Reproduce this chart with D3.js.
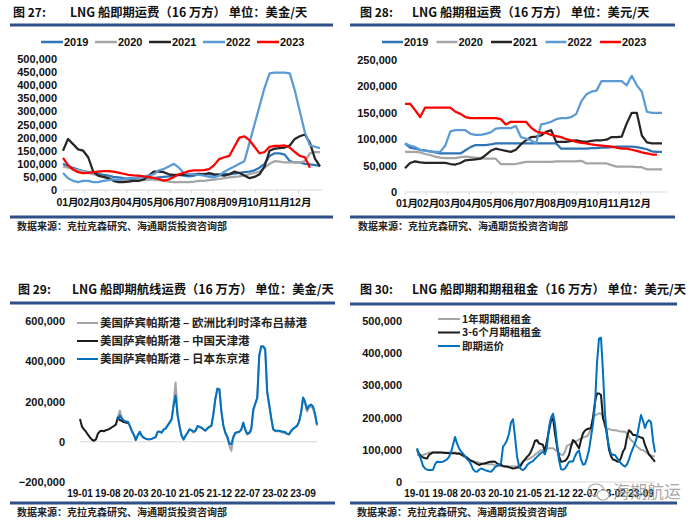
<!DOCTYPE html>
<html><head><meta charset="utf-8">
<script src="https://cdn.jsdelivr.net/npm/d3@7"></script>
<style>body{margin:0;background:#fff;} svg{display:block;}</style>
</head><body>
<svg id="c" width="700" height="530"></svg>
<script>
// ---------- DATA (values in thousand USD/day) ----------
const monthLabels = ["01月","02月","03月","04月","05月","06月","07月","08月","09月","10月","11月","12月"];
const years = ["2019","2020","2021","2022","2023"];

// Fig 27: spot rate, weekly
const spot2019 = [100,90,85,78,72,68,65,62,58,55, 50,48,45,42,42,40,40,42,45,48, 50,52,55,58,55,52,55,60,62,60, 58,60,62,60,62,65,68,70,75,85, 100,130,140,140,135,110,105,105,100,98, 95,92];
const spot2020 = [90,85,80,75,70,65,60,55,50,45, 40,38,36,35,36,38,38,40,40,38, 35,32,30,30,30,30,32,35,35,38, 40,42,45,48,50,52,55,60,65,70, 85,100,110,108,105,105,105,105,110,140, 145,145];
const spot2021 = [150,195,175,155,150,125,70,55,50,45, 35,30,30,32,35,35,40,55,70,70, 68,60,58,58,60,58,60,62,60,65, 60,58,55,60,70,65,55,45,50,60, 90,150,158,160,162,170,195,205,212,180, 120,90];
const spot2022 = [65,45,35,30,35,35,30,30,35,38, 40,40,42,45,45,48,50,55,60,75, 80,90,100,85,65,60,60,58,55,50, 48,55,70,80,90,100,110,180,250,320, 390,445,448,448,448,445,380,300,220,170, 165,160];
const spot2023 = [123,95,78,68,64,65,68,70,72,72, 70,66,62,58,56,55,52,50,46,42, 36,40,50,60,66,72,75,75,76,80, 95,118,125,130,165,200,205,190,165,140, 145,165,168,168,170,162,145,130,125,85];

// Fig 28: time-charter rate, weekly
const tc2019 = [92,84,82,80,79,77,75,73,73,73, 73,73,79,85,89,89,89,90,92,92, 92,92,92,92,92,92,92,92,92,92, 92,82,82,82,82,82,82,83,83,84, 84,85,86,86,86,86,85,83,81,77, 76,76];
const tc2020 = [76,76,76,75,72,70,67,65,64,64, 64,66,67,66,65,64,63,63,63,53, 53,53,53,55,57,57,57,57,57,57, 58,58,58,58,58,59,54,54,54,54, 54,51,48,48,48,48,47,47,43,43, 43,43];
const tc2021 = [45,55,58,56,55,55,55,55,55,53, 52,55,60,61,62,63,70,78,82,80, 78,76,80,90,98,104,105,107,114,117, 95,95,95,97,98,96,95,97,98,98, 99,104,104,105,130,150,150,107,94,92, 92,92];
const tc2022 = [92,88,85,80,78,77,76,76,88,115, 117,117,117,110,108,108,110,113,120,121, 121,121,125,104,101,98,92,128,130,133, 138,140,140,142,148,172,185,190,192,210, 210,210,210,210,202,220,202,190,152,150, 150,150];
const tc2023 = [167,167,155,142,160,160,160,160,160,160, 152,148,142,140,140,140,140,140,140,138, 128,133,133,133,133,122,115,112,112,108, 106,104,100,98,95,93,92,90,89,88, 87,86,84,82,82,80,78,75,73,71, 71];

// Fig 29 / 30: half-monthly from 2019-01
const dateLabels = ["19-01","19-08","20-03","20-10","21-05","21-12","22-07","23-02","23-09"];
const routeNames = ["美国萨宾帕斯港 – 欧洲比利时泽布吕赫港","美国萨宾帕斯港 – 中国天津港","美国萨宾帕斯港 – 日本东京港"];
const routeEuropeStart = 19;
const routeEurope = [120,155,120,105,100,100,78,50,35,10, 35,48,30,20,15,12,12,15,20,25, 48,52,45,62,68,82,98,115,190,295, 140,80,30,10,30,45,60,55,45,52, 75,72,68,60,55,65,72,78,140,215, 262,258,150,80,42,20,-20,-45,20,42, 45,48,58,90,55,35,40,55,150,185, 215,425,470,470,455,240,180,115,60,52, 52,52,48,45,42,38,35,50,62,70, 78,98,140,215,190,150,170,175,165,130, 80];
const routeChinaStart = 0;
const routeChina = [113,75,62,50,35,22,10,5,12,40, 52,55,52,58,60,65,72,78,85,120, 108,104,98,95,92];
const routeJapanStart = 19;
const routeJapan = [110,130,115,105,100,100,80,55,35,8, 30,50,30,20,15,12,12,14,18,22, 50,50,45,60,65,80,95,110,180,230, 130,75,30,12,30,45,62,58,50,55, 78,75,70,62,55,68,75,80,140,215, 265,260,150,80,45,25,-10,-12,25,45, 48,50,62,95,60,40,45,65,160,190, 220,430,475,475,460,250,185,120,62,55, 55,55,52,50,48,40,38,55,65,72, 80,100,145,220,200,160,180,185,175,140, 85];

const rateNames = ["1年期期租租金","3-6个月期租租金","即期运价"];
const tc1y = [84,84,84,84,86,88,92,92,92,92, 92,92,92,92,92,92,92,92,92,92, 90,88,84,80,76,74,70,67,65,63, 62,60,58,57,56,56,55,55,54,52, 50,50,49,48,48,48,48,48,48,48, 48,52,58,63,68,70,72,76,79,85, 90,95,99,99,100,103,105,105,105,100, 95,90,85,84,95,112,115,118,122,125, 128,132,135,138,140,142,150,170,200,208, 210,213,213,200,170,165,165,162,161,161, 160,158,157,156,156,150,140,130,125,118, 110,105,100,99,95,90,86,83,80,79];
const tc36m = [99,88,80,76,74,73,84,88,92,92, 92,92,92,91,90,90,89,89,89,89, 88,89,86,83,80,76,70,66,63,60, 56,53,55,57,58,60,62,63,64,63, 58,54,53,50,48,48,46,44,42,43, 45,45,52,63,70,78,84,95,110,128, 130,120,118,115,94,130,160,190,198,150, 110,80,63,64,66,72,84,110,130,125, 115,105,130,151,160,164,166,167,200,250, 275,275,270,198,180,150,100,80,70,68, 64,63,75,95,105,140,161,155,146,146, 143,141,138,136,115,100,85,78,70,63];
const spotRate = [105,85,70,50,42,38,37,37,38,55, 63,62,62,63,66,70,78,92,115,140, 120,105,95,88,80,72,65,55,40,33, 32,38,42,40,37,35,33,32,38,46, 50,55,58,110,118,130,150,185,195,140, 80,50,40,37,42,52,58,62,65,72, 78,85,90,94,86,110,170,200,212,180, 120,68,40,38,42,52,62,64,64,80, 92,98,70,54,56,75,100,140,180,240, 370,445,448,340,210,140,110,88,84,84, 75,65,58,52,48,55,70,90,105,120, 140,175,208,190,168,185,192,186,130,92];

// ---------- DRAWING ----------
const svg = d3.select("#c");
const NAVY = "#2F5089";
const CJK = "'Noto Sans CJK SC', sans-serif";
const NUM = "'Liberation Sans', Arial, 'Noto Sans CJK SC', sans-serif";
const fmt = d => d3.format(",")(d * 1000);
const yearColors = ["#2E75B6","#A5A5A5","#262626","#5B9BD5","#FF0000"];

function frame(o) {
  svg.append("text").attr("x", o.noX).attr("y", o.titleY).text(o.no)
    .attr("font-family", CJK).attr("font-weight", "bold").attr("font-size", 12).attr("fill", "#111");
  svg.append("text").attr("x", o.tX).attr("y", o.titleY).text(o.title)
    .attr("font-family", CJK).attr("font-weight", "bold").attr("font-size", 12.3).attr("fill", "#111");
  [o.topY, o.botY].forEach(yy => svg.append("line").attr("x1", o.x0).attr("x2", o.x1)
    .attr("y1", yy).attr("y2", yy).attr("stroke", NAVY).attr("stroke-width", 3));
  svg.append("text").attr("x", o.srcX).attr("y", o.srcY).text("数据来源：克拉克森研究、海通期货投资咨询部")
    .attr("font-family", CJK).attr("font-weight", "bold").attr("font-size", 10).attr("fill", "#222");
}

function yAxis(y, vals, xr) {
  const g = svg.append("g").attr("transform", `translate(${xr},0)`)
    .call(d3.axisLeft(y).tickValues(vals).tickSize(0).tickPadding(0).tickFormat(fmt));
  g.select(".domain").remove();
  g.selectAll("text").attr("font-family", NUM).attr("font-weight", "bold").attr("font-size", 11).attr("fill", "#111");
}

function drawLine(x, y, data, start, color, w) {
  const line = d3.line().x((d, i) => x(i + start)).y(d => y(d)).curve(d3.curveLinear);
  svg.append("path").datum(data).attr("d", line).attr("fill", "none")
    .attr("stroke", color).attr("stroke-width", w).attr("stroke-linejoin", "round");
}

// ===== Fig 27 =====
frame({no: "图 27:", noX: 13, tX: 70, title: "LNG 船即期运费（16 万方） 单位：美金/天", titleY: 17,
  x0: 10, x1: 333, topY: 25, botY: 217, srcX: 17, srcY: 230});
{
  const x = d3.scaleLinear().domain([0, 51]).range([63, 320]);
  const y = d3.scaleLinear().domain([0, 500]).range([190, 59]);
  yAxis(y, d3.range(0, 501, 50), 57);
  svg.append("line").attr("x1", 63).attr("x2", 322).attr("y1", y(0)).attr("y2", y(0)).attr("stroke", "#D9D9D9");
  monthLabels.forEach((m, i) => {
    svg.append("line").attr("x1", x(i * 4.25)).attr("x2", x(i * 4.25)).attr("y1", y(0)).attr("y2", y(0) + 3).attr("stroke", "#D9D9D9");
    svg.append("text").attr("x", x(i * 4.2 + 0.9)).attr("y", 206).attr("text-anchor", "middle").text(m)
      .attr("font-family", NUM).attr("font-weight", "bold").attr("font-size", 10.5).attr("fill", "#111");
  });
  [spot2019, spot2020, spot2021, spot2022, spot2023].forEach((s, i) => drawLine(x, y, s, 0, yearColors[i], 2.25));
  years.forEach((yr, i) => {
    const lx = 41 + i * 54;
    svg.append("line").attr("x1", lx).attr("x2", lx + 22).attr("y1", 42).attr("y2", 42).attr("stroke", yearColors[i]).attr("stroke-width", 2.5);
    svg.append("text").attr("x", lx + 23).attr("y", 46).text(yr)
      .attr("font-family", NUM).attr("font-weight", "bold").attr("font-size", 11).attr("fill", "#111");
  });
}

// ===== Fig 28 =====
frame({no: "图 28:", noX: 360, tX: 412, title: "LNG 船期租运费（16 万方） 单位：美元/天", titleY: 17,
  x0: 350, x1: 675, topY: 25, botY: 217, srcX: 358, srcY: 230});
{
  const x = d3.scaleLinear().domain([0, 51]).range([405, 662]);
  const y = d3.scaleLinear().domain([0, 250]).range([192, 60]);
  yAxis(y, d3.range(0, 251, 50), 397);
  svg.append("line").attr("x1", 405).attr("x2", 667).attr("y1", y(0)).attr("y2", y(0)).attr("stroke", "#D9D9D9");
  monthLabels.forEach((m, i) => {
    svg.append("line").attr("x1", x(i * 4.25)).attr("x2", x(i * 4.25)).attr("y1", y(0)).attr("y2", y(0) + 3).attr("stroke", "#D9D9D9");
    svg.append("text").attr("x", x(i * 4.2 + 0.4)).attr("y", 207).attr("text-anchor", "middle").text(m)
      .attr("font-family", NUM).attr("font-weight", "bold").attr("font-size", 10.5).attr("fill", "#111");
  });
  [tc2019, tc2020, tc2021, tc2022, tc2023].forEach((s, i) => drawLine(x, y, s, 0, yearColors[i], 2.25));
  years.forEach((yr, i) => {
    const lx = 382 + i * 54.5;
    svg.append("line").attr("x1", lx).attr("x2", lx + 21).attr("y1", 42).attr("y2", 42).attr("stroke", yearColors[i]).attr("stroke-width", 2.5);
    svg.append("text").attr("x", lx + 22).attr("y", 46).text(yr)
      .attr("font-family", NUM).attr("font-weight", "bold").attr("font-size", 11).attr("fill", "#111");
  });
}

// ===== Fig 29 =====
frame({no: "图 29:", noX: 18, tX: 72, title: "LNG 船即期航线运费（16 万方） 单位：美金/天", titleY: 294,
  x0: 10, x1: 335, topY: 303, botY: 503, srcX: 17, srcY: 516});
{
  const x = d3.scaleLinear().domain([0, 119]).range([80, 317]);
  const y = d3.scaleLinear().domain([-200, 600]).range([482, 321]);
  yAxis(y, d3.range(-200, 601, 200), 65);
  svg.append("line").attr("x1", 80).attr("x2", 317).attr("y1", y(0)).attr("y2", y(0)).attr("stroke", "#D9D9D9").attr("stroke-width", 1.2);
  dateLabels.forEach((d, i) => svg.append("text").attr("x", x(i * 14)).attr("y", 497).attr("text-anchor", "middle").text(d)
    .attr("font-family", NUM).attr("font-weight", "bold").attr("font-size", 10).attr("fill", "#111"));
  const cols = ["#A5A5A5", "#1A1A1A", "#0070C0"];
  drawLine(x, y, routeEurope, routeEuropeStart, cols[0], 2);
  drawLine(x, y, routeChina, routeChinaStart, cols[1], 2);
  drawLine(x, y, routeJapan, routeJapanStart, cols[2], 2);
  routeNames.forEach((n, i) => {
    const ly = 323 + i * 18;
    svg.append("line").attr("x1", 77).attr("x2", 98).attr("y1", ly).attr("y2", ly).attr("stroke", cols[i]).attr("stroke-width", 2);
    svg.append("text").attr("x", 100).attr("y", ly + 4).text(n)
      .attr("font-family", CJK).attr("font-weight", "bold").attr("font-size", 11.5).attr("fill", "#222");
  });
}

// ===== Fig 30 =====
frame({no: "图 30:", noX: 360, tX: 412, title: "LNG 船即期和期租租金（16 万方） 单位：美元/天", titleY: 294,
  x0: 350, x1: 677, topY: 304, botY: 503, srcX: 357, srcY: 516});
{
  const x = d3.scaleLinear().domain([0, 119]).range([417, 655]);
  const y = d3.scaleLinear().domain([0, 500]).range([482, 321]);
  yAxis(y, d3.range(0, 501, 100), 402);
  svg.append("line").attr("x1", 417).attr("x2", 655).attr("y1", y(0)).attr("y2", y(0)).attr("stroke", "#D9D9D9").attr("stroke-width", 1.2);
  dateLabels.forEach((d, i) => svg.append("text").attr("x", x(i * 14)).attr("y", 497).attr("text-anchor", "middle").text(d)
    .attr("font-family", NUM).attr("font-weight", "bold").attr("font-size", 10).attr("fill", "#111"));
  const cols = ["#A6A6A6", "#1A1A1A", "#0070C0"];
  drawLine(x, y, tc1y, 0, cols[0], 2);
  drawLine(x, y, tc36m, 0, cols[1], 2);
  drawLine(x, y, spotRate, 0, cols[2], 2);
  rateNames.forEach((n, i) => {
    const ly = 319 + i * 13.5;
    svg.append("line").attr("x1", 438).attr("x2", 460).attr("y1", ly).attr("y2", ly).attr("stroke", cols[i]).attr("stroke-width", 2);
    svg.append("text").attr("x", 462).attr("y", ly + 3.5).text(n)
      .attr("font-family", CJK).attr("font-weight", "bold").attr("font-size", 10.5).attr("fill", "#222");
  });
  // watermark
  svg.append("ellipse").attr("cx", 596).attr("cy", 490).attr("rx", 8).attr("ry", 6).attr("fill", "none").attr("stroke", "#aaa").attr("stroke-width", 1.2);
  svg.append("ellipse").attr("cx", 603).attr("cy", 495).attr("rx", 6).attr("ry", 5).attr("fill", "#fff").attr("stroke", "#aaa").attr("stroke-width", 1.2);
  svg.append("text").attr("x", 613).attr("y", 498).text("海期航运")
    .attr("font-family", CJK).attr("font-size", 17).attr("fill", "#9a9a9a").attr("opacity", 0.85);
}
</script>
</body></html>
